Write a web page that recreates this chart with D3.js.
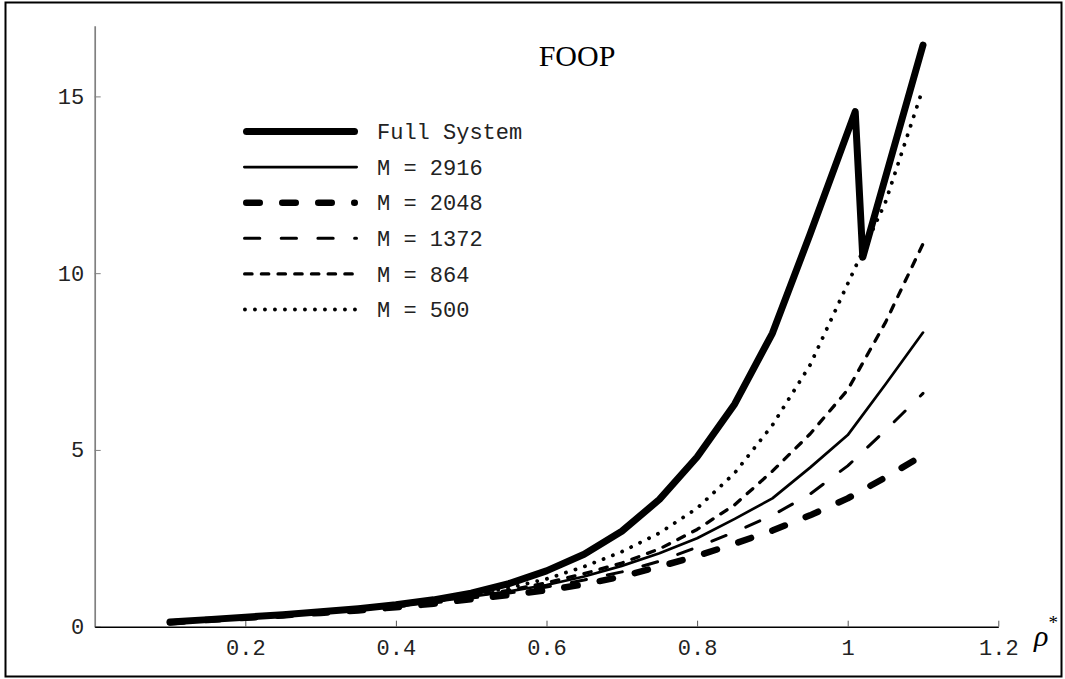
<!DOCTYPE html>
<html>
<head>
<meta charset="utf-8">
<script src="https://cdn.jsdelivr.net/npm/d3@7"></script>
<style>
  body { margin: 0; background: #fff; }
</style>
</head>
<body>
<svg id="chart"></svg>
<script>
// density values (rho*)
const rhoFull = [0.1, 0.15, 0.2, 0.25, 0.3, 0.35, 0.4, 0.45, 0.5, 0.55, 0.6, 0.65, 0.7, 0.75, 0.8, 0.85, 0.9, 0.95, 1.01, 1.02, 1.1];
const rhoM = [0.1, 0.15, 0.2, 0.25, 0.3, 0.35, 0.4, 0.45, 0.5, 0.55, 0.6, 0.65, 0.7, 0.75, 0.8, 0.85, 0.9, 0.95, 1.0, 1.05, 1.1];

const fullSystem = [0.13, 0.2, 0.27, 0.34, 0.42, 0.51, 0.62, 0.76, 0.95, 1.22, 1.58, 2.05, 2.7, 3.6, 4.8, 6.3, 8.3, 11.1, 14.57, 10.45, 16.45];
const m2916 = [0.12, 0.19, 0.26, 0.33, 0.4, 0.48, 0.58, 0.7, 0.85, 1.0, 1.18, 1.42, 1.72, 2.08, 2.5, 3.05, 3.63, 4.5, 5.42, 6.85, 8.32];
const m2048 = [0.12, 0.19, 0.25, 0.32, 0.39, 0.46, 0.55, 0.65, 0.78, 0.9, 1.03, 1.2, 1.42, 1.7, 2.0, 2.35, 2.72, 3.15, 3.63, 4.22, 4.85];
const m1372 = [0.12, 0.19, 0.26, 0.33, 0.39, 0.47, 0.56, 0.67, 0.81, 0.95, 1.12, 1.32, 1.55, 1.85, 2.25, 2.68, 3.15, 3.75, 4.55, 5.55, 6.6];
const m864 = [0.12, 0.19, 0.26, 0.33, 0.4, 0.48, 0.58, 0.71, 0.87, 1.03, 1.24, 1.5, 1.8, 2.2, 2.75, 3.45, 4.4, 5.45, 6.7, 8.6, 10.83];
const m500 = [0.12, 0.19, 0.26, 0.33, 0.41, 0.5, 0.6, 0.74, 0.91, 1.1, 1.35, 1.7, 2.12, 2.65, 3.35, 4.35, 5.7, 7.4, 9.7, 12.0, 15.23];

const seriesNames = ["Full System", "M = 2916", "M = 2048", "M = 1372", "M = 864", "M = 500"];
const xTicks = [0.2, 0.4, 0.6, 0.8, 1, 1.2];
const yTicks = [0, 5, 10, 15];

const width = 1065, height = 679;
const margin = { top: 25.7, left: 94.7, bottom: 52.3, right: 66.7 };

// line styles, one per series
const styles = [
  { w: 7, dash: null },
  { w: 2.7, dash: null },
  { w: 6.5, dash: "13.5,22.5" },
  { w: 3, dash: "15.3,21.4" },
  { w: 3.3, dash: "7.4,9.3" },
  { w: 3.8, dash: "0.1,9.9" }
];

const series = [
  { name: seriesNames[0], x: rhoFull, y: fullSystem },
  { name: seriesNames[1], x: rhoM, y: m2916 },
  { name: seriesNames[2], x: rhoM, y: m2048 },
  { name: seriesNames[3], x: rhoM, y: m1372 },
  { name: seriesNames[4], x: rhoM, y: m864 },
  { name: seriesNames[5], x: rhoM, y: m500 }
];

const svg = d3.select("#chart").attr("width", width).attr("height", height);

svg.append("rect")
  .attr("x", 5.5).attr("y", 2.5)
  .attr("width", 1056).attr("height", 674)
  .attr("fill", "none").attr("stroke", "#000").attr("stroke-width", 2);

const x = d3.scaleLinear().domain([0, 1.2]).range([margin.left, width - margin.right]);
const y = d3.scaleLinear().domain([0, 17]).range([height - margin.bottom, margin.top]);

const monoFont = "'Liberation Mono', 'DejaVu Sans Mono', monospace";

// y axis
const yAxis = svg.append("g")
  .attr("transform", `translate(${margin.left},0)`)
  .call(d3.axisLeft(y).tickValues(yTicks).tickSizeInner(-6).tickSizeOuter(0).tickPadding(10.5));
yAxis.select(".domain").attr("stroke", "#808080").attr("stroke-width", 1.7);
yAxis.selectAll(".tick line").attr("stroke", "#808080");
yAxis.selectAll("text").attr("font-family", monoFont).attr("font-size", 22).attr("fill", "#222");

// x axis
const xAxis = svg.append("g")
  .attr("transform", `translate(0,${height - margin.bottom})`)
  .call(d3.axisBottom(x).tickValues(xTicks).tickFormat(d3.format("")).tickSizeInner(-6).tickSizeOuter(0).tickPadding(13));
xAxis.select(".domain").attr("stroke", "#000").attr("stroke-width", 1.5);
xAxis.selectAll(".tick line").attr("stroke", "#555");
xAxis.selectAll("text").attr("font-family", monoFont).attr("font-size", 22).attr("fill", "#222");

// axis label rho*
const rl = svg.append("text")
  .attr("x", 1034).attr("y", 646)
  .attr("font-family", "'Liberation Serif', serif")
  .attr("font-style", "italic")
  .attr("font-size", 30)
  .text("ρ");
rl.append("tspan").attr("dy", -17).attr("font-size", 19).attr("font-style", "normal").text("*");

// title
svg.append("text")
  .attr("x", 577).attr("y", 66)
  .attr("text-anchor", "middle")
  .attr("font-family", "'Liberation Serif', 'Times New Roman', serif")
  .attr("font-size", 30)
  .text("FOOP");

// curves
const line = d3.line().x(d => x(d[0])).y(d => y(d[1]));

svg.append("g").selectAll("path")
  .data(series.slice().reverse())
  .join("path")
  .attr("d", s => line(s.x.map((v, i) => [v, s.y[i]])))
  .attr("fill", "none")
  .attr("stroke", "#000")
  .attr("stroke-width", s => styles[seriesNames.indexOf(s.name)].w)
  .attr("stroke-dasharray", s => styles[seriesNames.indexOf(s.name)].dash)
  .attr("stroke-linecap", "round")
  .attr("stroke-linejoin", "round");

// legend
const legend = svg.append("g");
const rowY = i => 131.5 + i * 35.6;

legend.selectAll("line")
  .data(seriesNames)
  .join("line")
  .attr("x1", (d, i) => 243 + styles[i].w / 2)
  .attr("x2", (d, i) => 358 - styles[i].w / 2)
  .attr("y1", (d, i) => rowY(i)).attr("y2", (d, i) => rowY(i))
  .attr("stroke", "#000")
  .attr("stroke-width", (d, i) => styles[i].w)
  .attr("stroke-dasharray", (d, i) => styles[i].dash)
  .attr("stroke-linecap", "round");

legend.selectAll("text")
  .data(seriesNames)
  .join("text")
  .attr("x", 377)
  .attr("y", (d, i) => rowY(i))
  .attr("dy", "0.35em")
  .attr("font-family", monoFont)
  .attr("font-size", 22)
  .attr("fill", "#222")
  .attr("xml:space", "preserve")
  .style("white-space", "pre")
  .text(d => d);
</script>
</body>
</html>
